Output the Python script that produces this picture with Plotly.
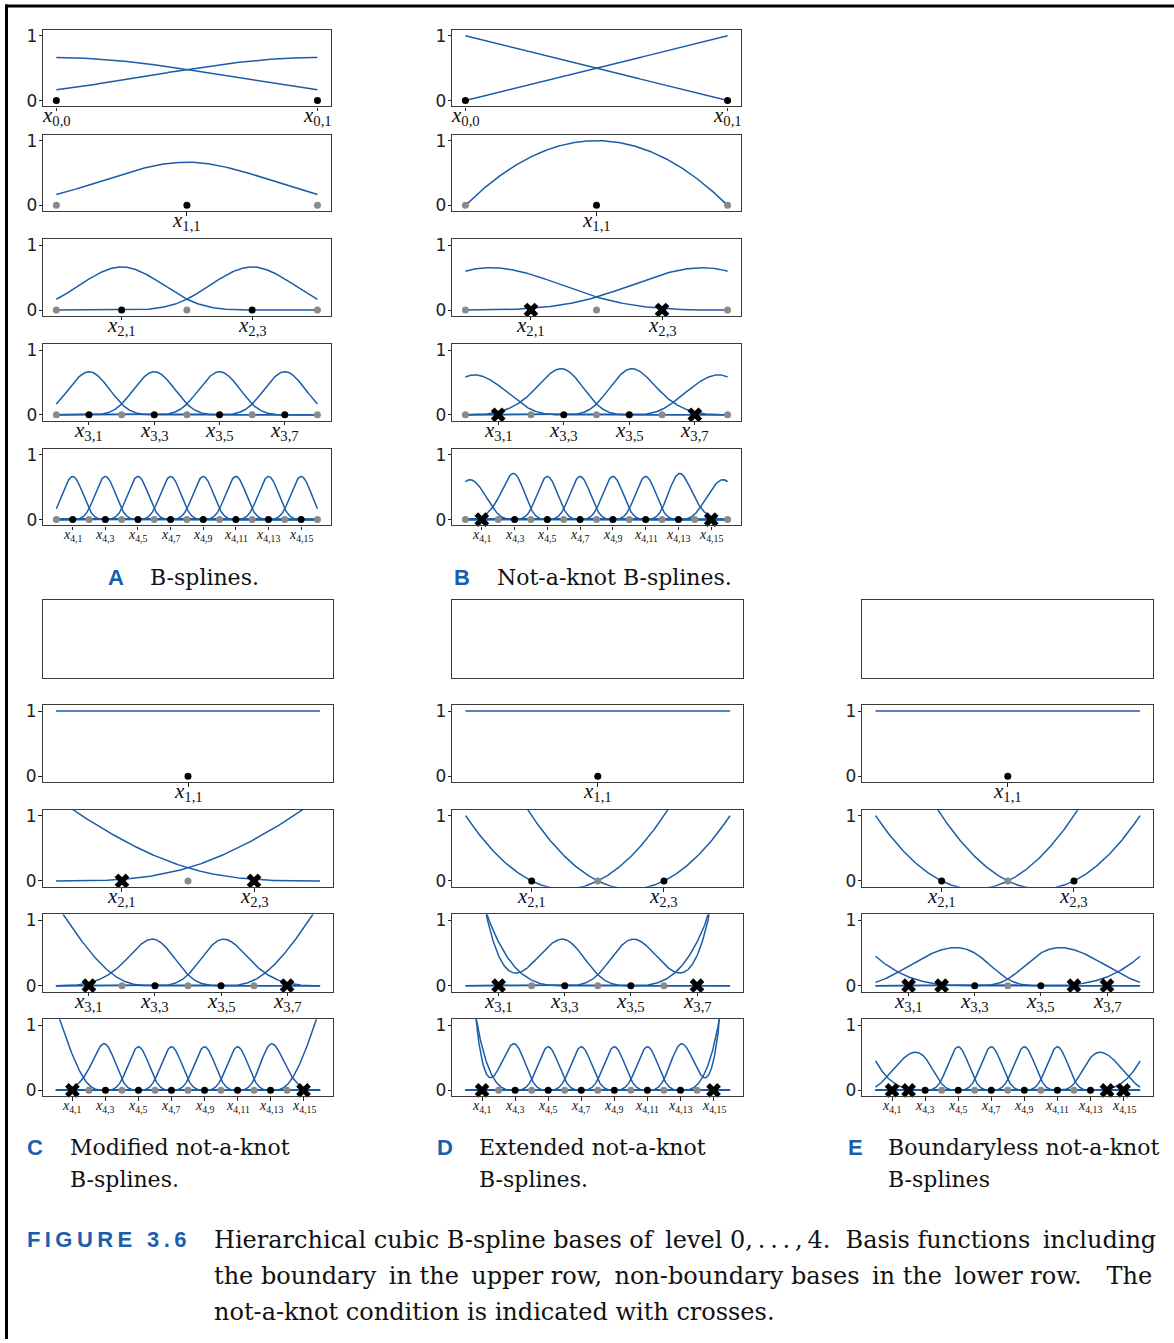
import numpy as np
import plotly.graph_objects as go

# ---------------------------------------------------------------- content
LEVELS = [0, 1, 2, 3, 4]
DEGREE = 3
COLUMNS = ["A", "B", "C", "D", "E"]
CAPTION_LINES = {
    "A": ["B-splines."],
    "B": ["Not-a-knot B-splines."],
    "C": ["Modified not-a-knot", "B-splines."],
    "D": ["Extended not-a-knot", "B-splines."],
    "E": ["Boundaryless not-a-knot", "B-splines"],
}
# grid indices (counted from either end of the grid) that are not knots
SKIPPED_KNOTS = {"A": [], "B": [1], "C": [1], "D": [1], "E": [1, 2]}
# lowest level that is built from splines instead of Lagrange polynomials
FIRST_SPLINE_LEVEL = {"A": 0, "B": 2, "C": 2, "D": 3, "E": 3}
# bases that contain the boundary points
WITH_BOUNDARY = {"A": True, "B": True, "C": False, "D": False, "E": False}
# how the outermost functions are built from the not-a-knot B-splines
OUTER_RULE = {"A": None, "B": None, "C": "modified", "D": "extended", "E": None}
# weights of B_0 and B_1 in the modified outer function
MODIFIED_WEIGHTS = [2, 1]
FIGURE_LABEL = "FIGURE 3.6"
FIGURE_TEXT = [
    "Hierarchical cubic B-spline bases of level 0,\u2009.\u2009.\u2009.\u2009,\u20094.  Basis functions including",
    "the boundary in the upper row, non-boundary bases in the lower row.  The",
    "not-a-knot condition is indicated with crosses.",
]
# number of word gaps that get an extra thin space (justified lines)
JUSTIFY_PAD = [2, 7, 0]

# ---------------------------------------------------------------- styles
W, H = 1174, 1343
CURVE_COLOR = "#1b5ca8"
GRAY = "#8a8a8a"
FRAME = "#3a3a3a"
ACCENT = "#1a5fae"
SERIF = "DejaVu Serif"
MATH = "Liberation Serif"
SANS_BOLD = "Liberation Sans"

TOP_TOPS = [30, 134.7, 239.3, 344, 448.7]
TOP_H = 76.3
BOTTOM_TOPS = [600, 704.6, 809.2, 913.8, 1018.4]
BOTTOM_H = 77
COL_X = {"A": (43.3, 330.5), "B": (452.3, 740.7), "C": (42.7, 333.3),
         "D": (452.3, 743.3), "E": (862.3, 1153.3)}
# vertical page mapping (page pixels -> figure pixels)
V_OFFSET, V_SCALE = 4.0, 0.9933


def py(y):
    """Paper coordinate of a vertical page position given in pixels."""
    return 1 - ((y - V_OFFSET) / V_SCALE) / H


X = np.linspace(0.0, 1.0, 801)


# ---------------------------------------------------------------- bases
def bspline(knots, x):
    """Single B-spline of degree len(knots) - 2 (Cox-de Boor)."""
    t = np.asarray(knots, float)
    p = len(t) - 2
    N = [((x >= t[j]) & (x < t[j + 1])).astype(float) for j in range(p + 1)]
    for k in range(1, p + 1):
        N = [(x - t[j]) / (t[j + k] - t[j]) * N[j]
             + (t[j + k + 1] - x) / (t[j + k + 1] - t[j + 1]) * N[j + 1]
             for j in range(p + 1 - k)]
    return N[0]


def lagrange(nodes, k, x):
    y = np.ones_like(x)
    for m, xm in enumerate(nodes):
        if m != k:
            y = y * (x - xm) / (nodes[k] - xm)
    return y


def knot_sequence(level, skipped):
    n = 2 ** level
    inner = [i for i in range(n + 1) if i not in skipped and n - i not in skipped]
    return [-3, -2, -1] + inner + [n + 1, n + 2, n + 3]


def hierarchical_indices(col, level):
    n = 2 ** level
    if level == 0:
        return [0, 1] if WITH_BOUNDARY[col] else []
    return list(range(1, n, 2))


def basis_functions(col, level, x):
    n = 2 ** level
    h = 1.0 / n
    idx = hierarchical_indices(col, level)
    if not idx:
        return []
    if level < FIRST_SPLINE_LEVEL[col]:
        pts = list(range(n + 1)) if WITH_BOUNDARY[col] else list(range(1, n))
        nodes = [i * h for i in pts]
        return [lagrange(nodes, pts.index(i), x) for i in idx]
    skipped = SKIPPED_KNOTS[col]
    knots = np.array(knot_sequence(level, skipped), float) * h
    shift = len(skipped) - 1
    count = len(knots) - DEGREE - 1
    B = {j + shift: bspline(knots[j:j + DEGREE + 2], x) for j in range(count)}
    rule = OUTER_RULE[col]
    out = []
    if rule == "modified":
        w0, w1 = MODIFIED_WEIGHTS
        for i in idx:
            if i == 1:
                out.append(w0 * B[0] + w1 * B[1])
            elif i == n - 1:
                out.append(w0 * B[n] + w1 * B[n - 1])
            else:
                out.append(B[i])
        return out
    if rule == "extended":
        # spline coefficients of 1, x, x^2, x^3 in the not-a-knot basis
        M = np.column_stack([B[j] for j in range(n + 1)])
        P = np.column_stack([x ** k for k in range(DEGREE + 1)])
        D = np.linalg.lstsq(M, P, rcond=None)[0]
        left = np.linalg.solve(D[1:DEGREE + 2].T, D[0])
        right = np.linalg.solve(D[n - DEGREE - 1:n].T, D[n])
        for i in idx:
            f = B[i].copy()
            if 1 <= i <= DEGREE + 1:
                f = f + left[i - 1] * B[0]
            if n - DEGREE - 1 <= i <= n - 1:
                f = f + right[i - (n - DEGREE - 1)] * B[n]
            out.append(f)
        return out
    return [B[i] for i in idx]


def point_sets(col, level):
    n = 2 ** level
    if level == 0:
        pts = [0, 1] if WITH_BOUNDARY[col] else []
        return pts, [], []
    pts = list(range(n + 1)) if WITH_BOUNDARY[col] else list(range(1, n))
    crossed = set()
    if level >= FIRST_SPLINE_LEVEL[col]:
        S = SKIPPED_KNOTS[col]
        crossed = set(S) | {n - s for s in S}
    black = [i for i in pts if i % 2 == 1 and i not in crossed]
    gray = [i for i in pts if i % 2 == 0 and i not in crossed]
    cross = [i for i in pts if i in crossed]
    return black, gray, cross


def tick_label(level, i):
    return f"<i>x</i><sub>{level},{i}</sub>"


# ---------------------------------------------------------------- figure
fig = go.Figure()
layout = {}
annotations = []
ax = 0
for col in COLUMNS:
    x0, x1 = COL_X[col]
    tops, ph = (TOP_TOPS, TOP_H) if WITH_BOUNDARY[col] else (BOTTOM_TOPS, BOTTOM_H)
    for r, level in enumerate(LEVELS):
        ax += 1
        xa = "x" if ax == 1 else f"x{ax}"
        ya = "y" if ax == 1 else f"y{ax}"
        n = 2 ** level
        h = 1.0 / n
        idx = hierarchical_indices(col, level)
        empty = not idx
        # keeps the (possibly empty) subplot on the page
        fig.add_trace(go.Scatter(x=[None], y=[None], xaxis=xa, yaxis=ya,
                                 showlegend=False, hoverinfo="skip"))
        for f in basis_functions(col, level, X):
            fig.add_trace(go.Scatter(x=X, y=f, mode="lines", xaxis=xa, yaxis=ya,
                                     line=dict(color=CURVE_COLOR, width=1.5),
                                     showlegend=False, hoverinfo="skip"))
        black, gray, cross = point_sets(col, level)
        for pts, sym, size, color in ((gray, "circle", 7, GRAY),
                                      (black, "circle", 7, "black"),
                                      (cross, "x", 13, "black")):
            if pts:
                fig.add_trace(go.Scatter(x=[i * h for i in pts], y=[0] * len(pts),
                                         mode="markers", xaxis=xa, yaxis=ya,
                                         marker=dict(symbol=sym, size=size, color=color,
                                                     line=dict(width=0)),
                                         cliponaxis=False,
                                         showlegend=False, hoverinfo="skip"))
        top = tops[r]
        bottom = top + ph
        xkey = "xaxis" if ax == 1 else f"xaxis{ax}"
        ykey = "yaxis" if ax == 1 else f"yaxis{ax}"
        layout[xkey] = dict(
            domain=[x0 / W, x1 / W], range=[-0.05, 1.05], anchor=ya,
            showline=True, mirror=True, linecolor=FRAME, linewidth=1.3,
            showgrid=False, zeroline=False, fixedrange=True,
            tickmode="array", tickvals=[i * h for i in idx], showticklabels=False,
            ticks="" if empty else "outside", ticklen=3.5, tickwidth=1, tickcolor="#222",
        )
        layout[ykey] = dict(
            domain=[py(bottom), py(top)], range=[-0.09, 1.09], anchor=xa,
            showline=True, mirror=True, linecolor=FRAME, linewidth=1.3,
            showgrid=False, zeroline=False, fixedrange=True,
            tickmode="array", tickvals=[] if empty else [0, 1],
            ticktext=[] if empty else ["0", "1"],
            ticks="" if empty else "outside", ticklen=3.5, tickwidth=1, tickcolor="#222",
            ticklabelstandoff=-2,
            tickfont=dict(family="DejaVu Sans", size=17, color="#222"),
        )
        # grid-point labels under the panel
        small = level == 4
        for i in idx:
            annotations.append(dict(
                x=i * h, xref=xa, y=py(bottom + (0 if small else -5)), yref="paper",
                text=tick_label(level, i), showarrow=False,
                xanchor="center", yanchor="top",
                font=dict(family=MATH, size=14 if small else 21, color="#111")))


def text(x, y, s, size, family, color="#111", anchor="left", bold=False):
    annotations.append(dict(
        x=x / W, y=py(y), xref="paper", yref="paper", text=f"<b>{s}</b>" if bold else s,
        showarrow=False, xanchor=anchor, yanchor="middle",
        font=dict(family=family, size=size, color=color)))


def justify(line, pads):
    words = line.split(" ")
    gaps = len(words) - 1
    out = words[0]
    for j in range(gaps):
        extra = (j + 1) * pads // gaps - j * pads // gaps if gaps else 0
        out += " " + "\u2009" * extra + words[j + 1]
    return out


CAPTION_POS = {"A": (116, 148, 577), "B": (462, 495, 577), "C": (35, 68, 1147),
               "D": (445, 477, 1147), "E": (855, 886, 1147)}
for col in COLUMNS:
    lx, tx, ty = CAPTION_POS[col]
    text(lx, ty, col, 22, SANS_BOLD, ACCENT, anchor="center", bold=True)
    for k, line in enumerate(CAPTION_LINES[col]):
        text(tx, ty + 32 * k, line, 22, SERIF)

text(25, 1239, "\u2009".join(FIGURE_LABEL), 22, SANS_BOLD, ACCENT, bold=True)
for k, line in enumerate(FIGURE_TEXT):
    text(212, 1239 + 36 * k, justify(line, JUSTIFY_PAD[k]), 24, SERIF)

shapes = [
    dict(type="line", xref="paper", yref="paper", x0=6.5 / W, x1=6.5 / W, y0=0, y1=py(4.5),
         line=dict(color="black", width=3)),
    dict(type="line", xref="paper", yref="paper", x0=5 / W, x1=1, y0=py(6), y1=py(6),
         line=dict(color="black", width=3)),
]

fig.update_layout(
    width=W, height=H, margin=dict(l=0, r=0, t=0, b=0),
    paper_bgcolor="white", plot_bgcolor="white",
    annotations=annotations, shapes=shapes, showlegend=False, **layout,
)
fig.write_html("out.html")
